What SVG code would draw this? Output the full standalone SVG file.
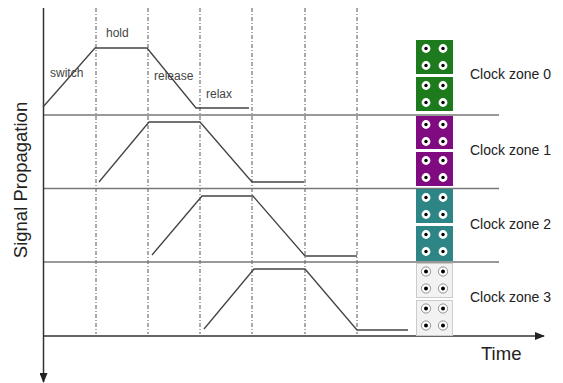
<svg xmlns="http://www.w3.org/2000/svg" xmlns:xlink="http://www.w3.org/1999/xlink" width="563" height="383" viewBox="0 0 563 383">
<style>
.axis{stroke:#333;stroke-width:1.5;fill:none}
.sep{stroke:#777;stroke-width:1.5;fill:none}
.grid{stroke:#555;stroke-width:1;stroke-dasharray:4 2 1 2;fill:none}
.sig{stroke:#444;stroke-width:1.3;fill:none}
.lbl{font-family:"Liberation Sans",Arial,sans-serif;font-size:12px;fill:#444}
.zl{font-family:"Liberation Sans",Arial,sans-serif;font-size:14px;fill:#222}
.big{font-family:"Liberation Sans",Arial,sans-serif;font-size:18.5px;fill:#222}
</style>
<defs>
<marker id="ah" markerWidth="10" markerHeight="8" refX="9" refY="4" orient="auto" markerUnits="userSpaceOnUse">
<path d="M0,0 L10,4 L0,8 Z" fill="#222"/>
</marker>
<g id="dots">
<circle cx="10" cy="8.5" r="4.4" fill="#fff"/><circle cx="10" cy="8.5" r="1.7" fill="#000"/>
<circle cx="27" cy="8.5" r="4.4" fill="#fff"/><circle cx="27" cy="8.5" r="1.7" fill="#000"/>
<circle cx="10" cy="25.5" r="4.4" fill="#fff"/><circle cx="10" cy="25.5" r="1.7" fill="#000"/>
<circle cx="27" cy="25.5" r="4.4" fill="#fff"/><circle cx="27" cy="25.5" r="1.7" fill="#000"/>
</g>
<g id="rdots">
<circle cx="10" cy="8.5" r="4.6" fill="#fff" stroke="#777" stroke-width="0.8"/><circle cx="10" cy="8.5" r="2" fill="#000"/>
<circle cx="27" cy="8.5" r="4.6" fill="#fff" stroke="#777" stroke-width="0.8"/><circle cx="27" cy="8.5" r="2" fill="#000"/>
<circle cx="10" cy="25.5" r="4.6" fill="#fff" stroke="#777" stroke-width="0.8"/><circle cx="10" cy="25.5" r="2" fill="#000"/>
<circle cx="27" cy="25.5" r="4.6" fill="#fff" stroke="#777" stroke-width="0.8"/><circle cx="27" cy="25.5" r="2" fill="#000"/>
</g>
</defs>
<rect width="563" height="383" fill="#fff"/>

<g id="grid">
<line class="grid" x1="96" y1="8" x2="96" y2="334"/>
<line class="grid" x1="148" y1="8" x2="148" y2="334"/>
<line class="grid" x1="200" y1="8" x2="200" y2="334"/>
<line class="grid" x1="252" y1="8" x2="252" y2="334"/>
<line class="grid" x1="305" y1="8" x2="305" y2="334"/>
<line class="grid" x1="357" y1="8" x2="357" y2="334"/>
</g>

<g id="separators">
<line class="sep" x1="43" y1="115" x2="499" y2="115"/>
<line class="sep" x1="43" y1="188.5" x2="499" y2="188.5"/>
<line class="sep" x1="43" y1="262" x2="499" y2="262"/>
</g>

<g id="axes">
<line class="axis" x1="43.5" y1="8" x2="43.5" y2="382" marker-end="url(#ah)"/>
<line class="axis" x1="43" y1="336" x2="544" y2="336" marker-end="url(#ah)"/>
<text class="big" x="481" y="360">Time</text>
<text class="big" transform="translate(27,180) rotate(-90)" text-anchor="middle">Signal Propagation</text>
</g>

<g id="signals">
<polyline class="sig" points="43,107 95,48 147,48 196,108 249,108"/>
<polyline class="sig" points="99,182 149,122 200,122 252,182 304,182"/>
<polyline class="sig" points="152,255 202,196 253,196 305,256 357,256"/>
<polyline class="sig" points="204,329 254,269 305,269 357,330 408,330"/>
</g>

<g id="phase-labels">
<text class="lbl" x="106" y="37">hold</text>
<text class="lbl" x="50" y="77">switch</text>
<text class="lbl" x="154" y="80">release</text>
<text class="lbl" x="206" y="98">relax</text>
</g>

<g id="zone0">
<rect x="416" y="40" width="37" height="34" fill="#1d7a1d"/>
<use xlink:href="#dots" x="416" y="40"/>
<rect x="416" y="77" width="37" height="34" fill="#1d7a1d"/>
<use xlink:href="#dots" x="416" y="77"/>
<text class="zl" x="470" y="79">Clock zone 0</text>
</g>
<g id="zone1">
<rect x="416" y="116" width="37" height="33" fill="#800a80"/>
<use xlink:href="#dots" x="416" y="116"/>
<rect x="416" y="152" width="37" height="34" fill="#800a80"/>
<use xlink:href="#dots" x="416" y="152"/>
<text class="zl" x="470" y="155">Clock zone 1</text>
</g>
<g id="zone2">
<rect x="416" y="189" width="37" height="34" fill="#2e8585"/>
<use xlink:href="#dots" x="416" y="189"/>
<rect x="416" y="226" width="37" height="35" fill="#2e8585"/>
<use xlink:href="#dots" x="416" y="226"/>
<text class="zl" x="470" y="229">Clock zone 2</text>
</g>
<g id="zone3">
<rect x="416.5" y="263.5" width="36" height="34" fill="#f2f2f2" stroke="#ccc"/>
<use xlink:href="#rdots" x="416" y="263"/>
<rect x="416.5" y="300.5" width="36" height="35" fill="#f2f2f2" stroke="#ccc"/>
<use xlink:href="#rdots" x="416" y="300"/>
<text class="zl" x="470" y="302">Clock zone 3</text>
</g>
</svg>
